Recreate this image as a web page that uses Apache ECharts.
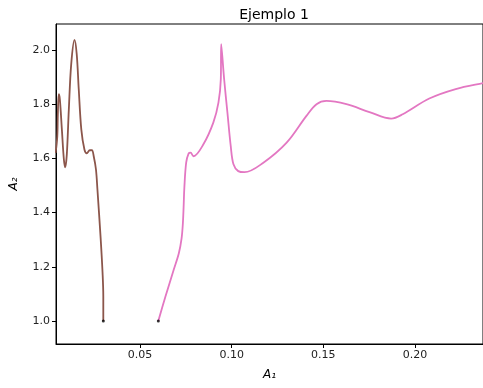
<!DOCTYPE html>
<html>
<head>
<meta charset="utf-8">
<script src="https://cdn.jsdelivr.net/npm/echarts@6/dist/echarts.min.js"></script>
<style>
  html, body { margin: 0; padding: 0; background: #fff; }
  #main { width: 483px; height: 388px; }
</style>
</head>
<body>
<div id="main"></div>
<script>
// curve 1 (brown)
const curve1X = [0.0040, 0.0049, 0.0052, 0.0057, 0.0063, 0.0074, 0.0085, 0.0092, 0.0101, 0.0112, 0.0125, 0.0143,
  0.0155, 0.0166, 0.0180, 0.0197, 0.0210, 0.0226, 0.0238, 0.0248, 0.0260, 0.0268, 0.0286, 0.0296, 0.0300, 0.0300]
const curve1Y = [1.62, 1.681, 1.763, 1.837, 1.818, 1.707, 1.596, 1.567, 1.615, 1.781, 1.948, 2.037,
  1.985, 1.856, 1.707, 1.633, 1.619, 1.630, 1.630, 1.607, 1.559, 1.485, 1.300, 1.177, 1.090, 1.000]

// curve 2 (pink)
const curve2X = [0.0600, 0.0639, 0.0684, 0.0712, 0.0727, 0.0734, 0.0738, 0.0742, 0.0752, 0.0765, 0.0776, 0.0792,
  0.0846, 0.0900, 0.0928, 0.0941, 0.0943, 0.0959, 0.0977, 0.0995, 0.1010, 0.1036, 0.1070, 0.1173, 0.1300,
  0.1408, 0.1463, 0.1517, 0.1626, 0.1752, 0.1870, 0.1933, 0.2078, 0.2222, 0.2371, 0.2450]
const curve2Y = [1.000, 1.090, 1.189, 1.250, 1.305, 1.360, 1.420, 1.491, 1.584, 1.618, 1.621, 1.608,
  1.652, 1.732, 1.806, 1.893, 2.022, 1.893, 1.769, 1.646, 1.578, 1.553, 1.549, 1.584, 1.658,
  1.757, 1.800, 1.812, 1.800, 1.771, 1.747, 1.763, 1.821, 1.856, 1.878, 1.888]

// start points
const startX = [0.03, 0.06]
const startY = [1.0, 1.0]

const xTicks = [0.05, 0.10, 0.15, 0.20]
const yTicks = [1.0, 1.2, 1.4, 1.6, 1.8, 2.0]

const pairs = (xs, ys) => xs.map((x, i) => [x, ys[i]])

const font = 'DejaVu Sans'
const chart = echarts.init(document.getElementById('main'))

let option = {
  animation: false,
  title: {
    text: 'Ejemplo 1',
    left: 269,
    top: 3,
    textAlign: 'center',
    textStyle: { fontFamily: font, fontSize: 14, fontWeight: 'normal', color: '#000' },
  },
  grid: {
    left: 55,
    right: -1,
    top: 24,
    bottom: 44,
    show: true,
    borderColor: '#000',
    borderWidth: 1,
  },
  xAxis: {
    type: 'value',
    min: 0.0042,
    max: 0.2371,
    name: 'A₁',
    nameLocation: 'middle',
    nameGap: 25,
    nameTextStyle: { fontFamily: font, fontSize: 12, fontStyle: 'italic', color: '#000' },
    axisLine: { show: true, onZero: false, lineStyle: { color: '#000', width: 1 } },
    axisTick: { show: true, length: 4, customValues: xTicks, lineStyle: { color: '#000' } },
    axisLabel: {
      customValues: xTicks,
      margin: 6,
      fontFamily: font,
      fontSize: 11,
      color: '#222',
      formatter: (v) => v.toFixed(2),
    },
    splitLine: { show: false },
  },
  yAxis: {
    type: 'value',
    min: 0.915,
    max: 2.096,
    name: 'A₂',
    nameLocation: 'middle',
    nameGap: 36,
    nameRotate: 90,
    nameTextStyle: { fontFamily: font, fontSize: 12, fontStyle: 'italic', color: '#000' },
    axisLine: { show: true, onZero: false, lineStyle: { color: '#000', width: 1 } },
    axisTick: { show: true, length: 4, customValues: yTicks, lineStyle: { color: '#000' } },
    axisLabel: {
      customValues: yTicks,
      margin: 6,
      fontFamily: font,
      fontSize: 11,
      color: '#222',
      formatter: (v) => v.toFixed(1),
    },
    splitLine: { show: false },
  },
  series: [
    {
      type: 'line',
      data: pairs(curve1X, curve1Y),
      smooth: 0.35,
      showSymbol: false,
      clip: true,
      lineStyle: { color: '#8c564b', width: 1.8 },
    },
    {
      type: 'line',
      data: pairs(curve2X, curve2Y),
      smooth: 0.35,
      showSymbol: false,
      clip: true,
      lineStyle: { color: '#e377c2', width: 1.8 },
    },
    {
      type: 'scatter',
      data: pairs(startX, startY),
      symbolSize: 3,
      itemStyle: { color: '#000' },
      z: 5,
    },
  ],
}
chart.setOption(option)
</script>
</body>
</html>
